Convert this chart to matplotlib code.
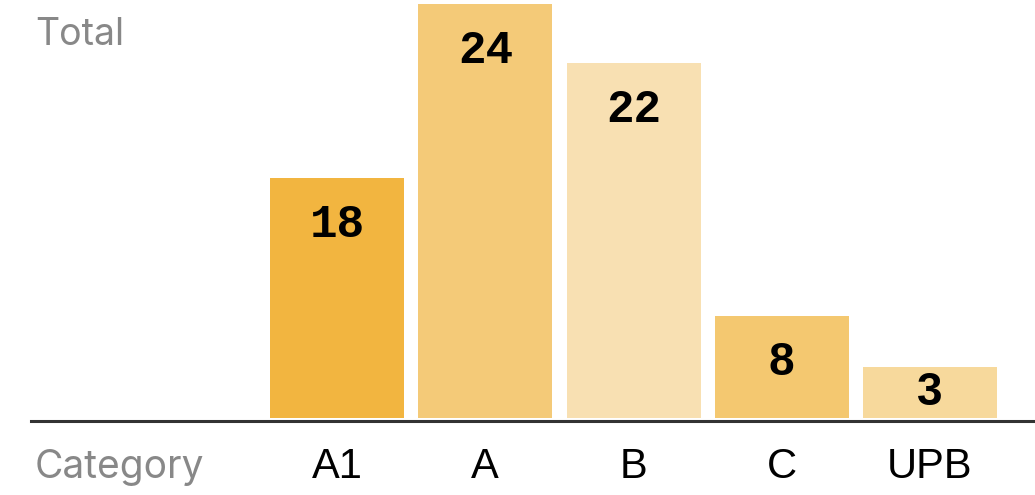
import matplotlib
matplotlib.use("Agg")
import matplotlib.pyplot as plt

# category data
categories = ["A1", "A", "B", "C", "UPB"]
totals = [18, 24, 22, 8, 3]
# bar heights as drawn in the chart (not proportional to the labels)
bar_heights = [13.9, 24, 20.6, 5.9, 2.96]
colors = ["#F2B540", "#F4CA78", "#F8E0B2", "#F4C870", "#F7D99C"]

W, H = 1035, 495
fig = plt.figure(figsize=(W / 100, H / 100), dpi=100)
ax = fig.add_axes([31 / W, (H - 418) / H, 1 - 31 / W, (418 - 4) / H])

x = list(range(len(categories)))
ax.bar(x, bar_heights, width=0.904, color=colors)

ax.set_xlim(-2.064, 4.708)
ax.set_ylim(0, 24)

for s in ["top", "right", "left"]:
    ax.spines[s].set_visible(False)
ax.spines["bottom"].set_position(("outward", 2))
ax.spines["bottom"].set_linewidth(2.2)
ax.spines["bottom"].set_color("#333333")
ax.set_yticks([])
ax.set_xticks(x)
ax.set_xticklabels(categories, fontsize=30, family=["Liberation Sans Narrow", "Liberation Sans", "DejaVu Sans"],
                   color="black")
ax.tick_params(axis="x", length=0, pad=19)

# value labels inside bars
px_per_unit = 414 / 24
for i, (h, v) in enumerate(zip(bar_heights, totals)):
    hpx = h * px_per_unit
    off = min(47, hpx / 2 + 1)
    fam = ["Liberation Mono", "DejaVu Sans Mono"] if v >= 10 else ["Liberation Sans", "DejaVu Sans"]
    ax.annotate(str(v), (i, h), xytext=(0, -off * 0.72), textcoords="offset points",
                ha="center", va="center", fontsize=33, fontweight="bold", family=fam,
                color="black")

fig.text(35 / W, 1 - 35 / H, "Total", fontsize=27, color="#888888", family="Inter",
         ha="left", va="center")
fig.text(35 / W, 1 - 468 / H, "Category", fontsize=28, color="#888888", family="Inter",
         ha="left", va="center")

fig.savefig("out.png", dpi=100)
